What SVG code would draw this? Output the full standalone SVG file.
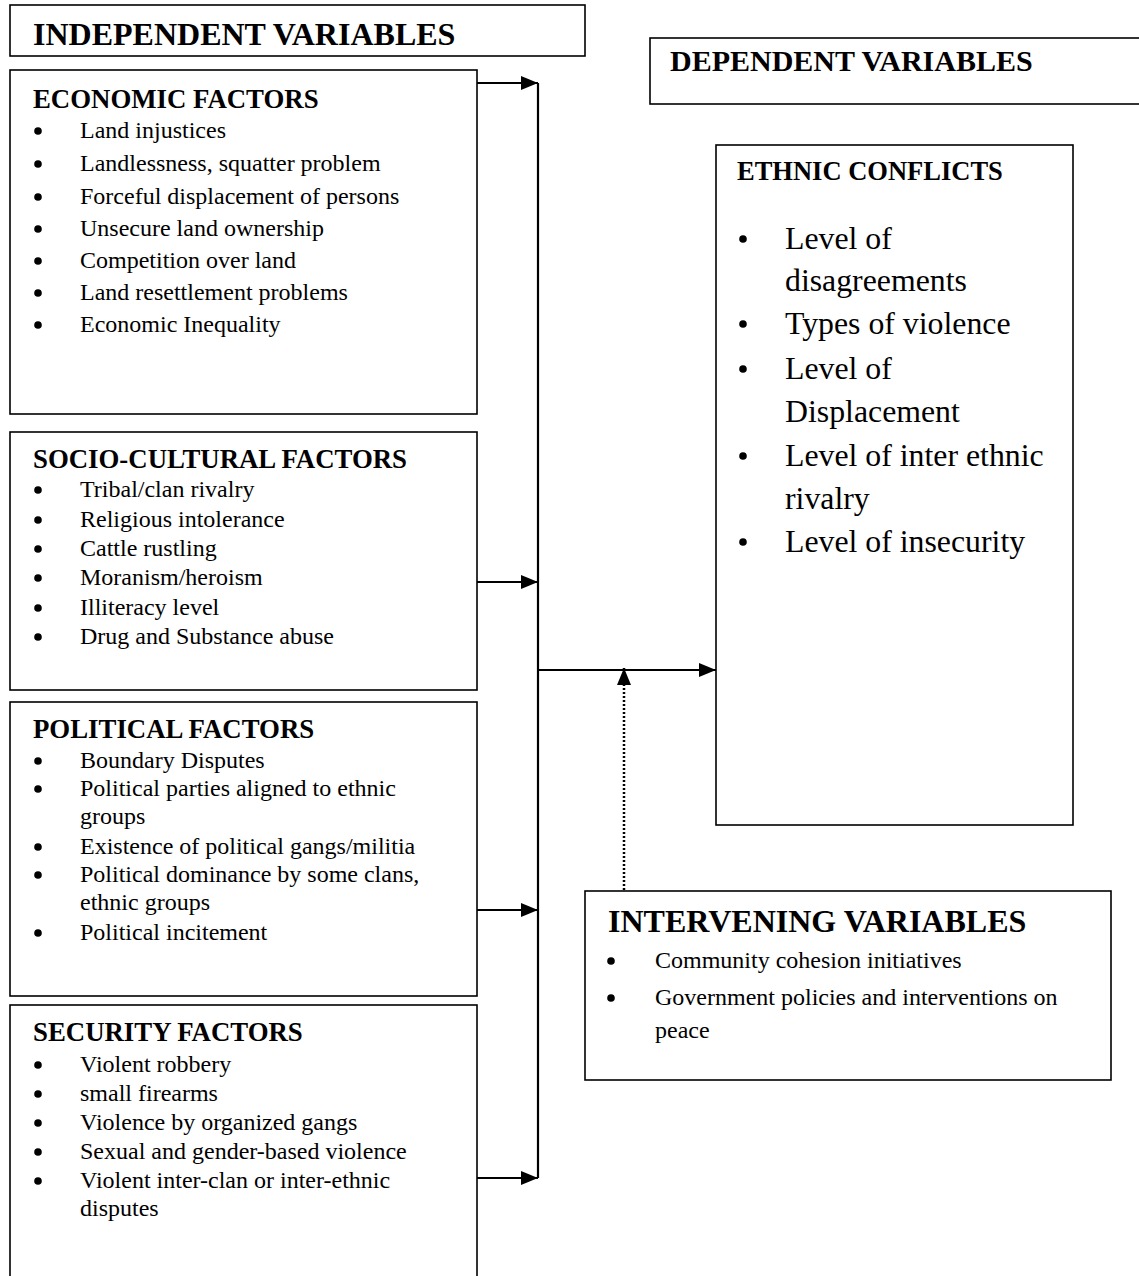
<svg xmlns="http://www.w3.org/2000/svg" width="1139" height="1276" viewBox="0 0 1139 1276">
<style>
  .box { fill: #fff; stroke: #000; stroke-width: 1.6; }
  .hdr { font-family: "Liberation Serif", "Times New Roman", serif; font-weight: bold; font-size: 32px; fill: #000; }
  .hdr2 { font-family: "Liberation Serif", "Times New Roman", serif; font-weight: bold; font-size: 30px; fill: #000; }
  .ttl { font-family: "Liberation Serif", "Times New Roman", serif; font-weight: bold; font-size: 26.8px; fill: #000; }
  .ttl2 { font-family: "Liberation Serif", "Times New Roman", serif; font-weight: bold; font-size: 26.5px; fill: #000; }
  .itm { font-family: "Liberation Serif", "Times New Roman", serif; font-size: 24px; fill: #000; }
  .big { font-family: "Liberation Serif", "Times New Roman", serif; font-size: 31.8px; fill: #000; }
  .conn { stroke: #000; stroke-width: 2.2; fill: none; }
  .dot { stroke: #000; stroke-width: 2.5; fill: none; stroke-dasharray: 2 2; }
</style>
<defs>
  <marker id="ah" markerWidth="17" markerHeight="14" refX="17" refY="7" orient="auto" markerUnits="userSpaceOnUse">
    <path d="M0,0 L17,7 L0,14 z" fill="#000"/>
  </marker>
  <symbol id="b" overflow="visible"><circle cx="0" cy="0" r="3.8" fill="#000"/></symbol>
</defs>
<rect width="1139" height="1276" fill="#fff"/>

<g id="independent-header">
  <rect class="box" x="10" y="5" width="575" height="51"/>
  <text class="hdr" x="33" y="45">INDEPENDENT VARIABLES</text>
</g>

<g id="dependent-header">
  <rect class="box" x="650" y="38" width="495" height="66"/>
  <text class="hdr2" x="670" y="71">DEPENDENT VARIABLES</text>
</g>

<g id="economic">
  <rect class="box" x="10" y="70" width="467" height="344"/>
  <text class="ttl" x="33" y="108">ECONOMIC FACTORS</text>
  <g class="itm">
    <use href="#b" x="38" y="131"/><text x="80" y="138">Land injustices</text>
    <use href="#b" x="38" y="164"/><text x="80" y="171">Landlessness, squatter problem</text>
    <use href="#b" x="38" y="197"/><text x="80" y="204">Forceful displacement of persons</text>
    <use href="#b" x="38" y="229"/><text x="80" y="236">Unsecure land ownership</text>
    <use href="#b" x="38" y="261"/><text x="80" y="268">Competition over land</text>
    <use href="#b" x="38" y="293"/><text x="80" y="300">Land resettlement problems</text>
    <use href="#b" x="38" y="325"/><text x="80" y="332">Economic Inequality</text>
  </g>
</g>

<g id="socio-cultural">
  <rect class="box" x="10" y="432" width="467" height="258"/>
  <text class="ttl" x="33" y="468">SOCIO-CULTURAL FACTORS</text>
  <g class="itm">
    <use href="#b" x="38" y="490"/><text x="80" y="497">Tribal/clan rivalry</text>
    <use href="#b" x="38" y="520"/><text x="80" y="527">Religious intolerance</text>
    <use href="#b" x="38" y="549"/><text x="80" y="556">Cattle rustling</text>
    <use href="#b" x="38" y="578"/><text x="80" y="585">Moranism/heroism</text>
    <use href="#b" x="38" y="608"/><text x="80" y="615">Illiteracy level</text>
    <use href="#b" x="38" y="637"/><text x="80" y="644">Drug and Substance abuse</text>
  </g>
</g>

<g id="political">
  <rect class="box" x="10" y="702" width="467" height="294"/>
  <text class="ttl" x="33" y="738">POLITICAL FACTORS</text>
  <g class="itm">
    <use href="#b" x="38" y="761"/><text x="80" y="768">Boundary Disputes</text>
    <use href="#b" x="38" y="789"/><text x="80" y="796">Political parties aligned to ethnic</text>
    <text x="80" y="824">groups</text>
    <use href="#b" x="38" y="847"/><text x="80" y="854">Existence of political gangs/militia</text>
    <use href="#b" x="38" y="875"/><text x="80" y="882">Political dominance by some clans,</text>
    <text x="80" y="910">ethnic groups</text>
    <use href="#b" x="38" y="933"/><text x="80" y="940">Political incitement</text>
  </g>
</g>

<g id="security">
  <rect class="box" x="10" y="1005" width="467" height="290"/>
  <text class="ttl" x="33" y="1041">SECURITY FACTORS</text>
  <g class="itm">
    <use href="#b" x="38" y="1065"/><text x="80" y="1072">Violent robbery</text>
    <use href="#b" x="38" y="1094"/><text x="80" y="1101">small firearms</text>
    <use href="#b" x="38" y="1123"/><text x="80" y="1130">Violence by organized gangs</text>
    <use href="#b" x="38" y="1152"/><text x="80" y="1159">Sexual and gender-based violence</text>
    <use href="#b" x="38" y="1181"/><text x="80" y="1188">Violent inter-clan or inter-ethnic</text>
    <text x="80" y="1216">disputes</text>
  </g>
</g>

<g id="ethnic-conflicts">
  <rect class="box" x="716" y="145" width="357" height="680"/>
  <text class="ttl2" x="737" y="180">ETHNIC CONFLICTS</text>
  <g class="big">
    <use href="#b" x="743" y="239"/><text x="785" y="249">Level of</text>
    <text x="785" y="291">disagreements</text>
    <use href="#b" x="743" y="324"/><text x="785" y="334">Types of violence</text>
    <use href="#b" x="743" y="369"/><text x="785" y="379">Level of</text>
    <text x="785" y="422">Displacement</text>
    <use href="#b" x="743" y="456"/><text x="785" y="466">Level of inter ethnic</text>
    <text x="785" y="509">rivalry</text>
    <use href="#b" x="743" y="542"/><text x="785" y="552">Level of insecurity</text>
  </g>
</g>

<g id="intervening">
  <rect class="box" x="585" y="891" width="526" height="189"/>
  <text class="hdr" x="608" y="932">INTERVENING VARIABLES</text>
  <g class="itm">
    <use href="#b" x="611" y="961"/><text x="655" y="968">Community cohesion initiatives</text>
    <use href="#b" x="611" y="998"/><text x="655" y="1005">Government policies and interventions on</text>
    <text x="655" y="1038">peace</text>
  </g>
</g>

<g id="connectors">
  <line class="conn" x1="538" y1="83" x2="538" y2="1178"/>
  <line class="conn" x1="477" y1="83" x2="538" y2="83" marker-end="url(#ah)"/>
  <line class="conn" x1="477" y1="582" x2="538" y2="582" marker-end="url(#ah)"/>
  <line class="conn" x1="477" y1="910" x2="538" y2="910" marker-end="url(#ah)"/>
  <line class="conn" x1="477" y1="1178" x2="538" y2="1178" marker-end="url(#ah)"/>
  <line class="conn" x1="538" y1="670" x2="716" y2="670" marker-end="url(#ah)"/>
  <line class="dot" x1="624" y1="890" x2="624" y2="668" marker-end="url(#ah)"/>
</g>
</svg>
